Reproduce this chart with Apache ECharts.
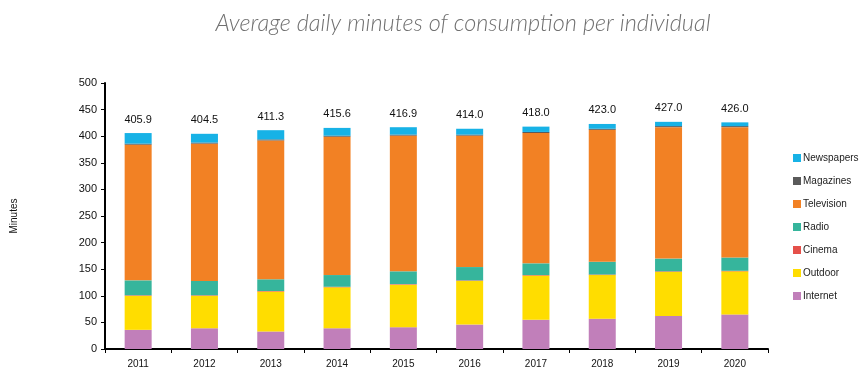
<!DOCTYPE html>
<html>
<head>
<meta charset="utf-8">
<script src="https://cdn.jsdelivr.net/npm/echarts@6/dist/echarts.min.js"></script>
<style>
  html, body { margin: 0; padding: 0; background: #fff; }
  #chart { width: 867px; height: 390px; }
</style>
</head>
<body>
<div id="chart"></div>
<script>
const years = ['2011', '2012', '2013', '2014', '2015', '2016', '2017', '2018', '2019', '2020'];
const totals = [405.9, 404.5, 411.3, 415.6, 416.9, 414.0, 418.0, 423.0, 427.0, 426.0];

// stacked segments, bottom to top
const internet   = [36, 39, 33, 39, 41, 46, 55, 57, 62, 65];
const outdoor    = [64, 61, 75, 77, 80, 82, 83, 82, 83, 81];
const cinema     = [1, 1, 1, 1, 1, 1, 1, 1, 1, 1];
const radio      = [28, 27, 22, 22, 24, 25, 22, 24, 24, 25];
const television = [255, 258, 261, 260, 255, 247, 245, 248, 247, 245];
const magazines  = [2, 2, 2, 2, 2, 2, 2, 2, 2, 2];
const newspapers = [19.9, 16.5, 17.3, 14.6, 13.9, 11.0, 10.0, 9.0, 8.0, 7.0];

const yTicks = [0, 50, 100, 150, 200, 250, 300, 350, 400, 450, 500];

const chart = echarts.init(document.getElementById('chart'));

const bar = (name, data, color, extra) => Object.assign({
  name: name,
  type: 'bar',
  stack: 'total',
  barWidth: 27,
  data: data,
  itemStyle: { color: color },
  emphasis: { disabled: true }
}, extra || {});

chart.setOption({
  animation: false,
  title: {
    text: 'Average daily minutes of consumption per individual',
    left: 458,
    textAlign: 'center',
    top: 7,
    textStyle: {
      fontFamily: 'Lato',
      fontStyle: 'italic',
      fontWeight: 300,
      fontSize: 23.5,
      color: '#707070'
    }
  },
  legend: {
    orient: 'vertical',
    left: 788,
    top: 148,
    itemWidth: 8,
    itemHeight: 8,
    itemGap: 13,
    icon: 'rect',
    textStyle: { fontSize: 10, color: '#222', padding: [0, 0, 0, -3] },
    data: ['Newspapers', 'Magazines', 'Television', 'Radio', 'Cinema', 'Outdoor', 'Internet']
  },
  grid: { left: 105, right: 99, top: 83, bottom: 41 },
  xAxis: {
    type: 'category',
    data: years,
    axisLine: { lineStyle: { color: '#000', width: 2 } },
    axisTick: { show: true, length: 4, lineStyle: { color: '#000' } },
    axisLabel: { color: '#111', fontSize: 10, margin: 10 }
  },
  yAxis: {
    type: 'value',
    min: yTicks[0],
    max: yTicks[yTicks.length - 1],
    interval: 50,
    name: 'Minutes',
    nameLocation: 'middle',
    nameGap: 86,
    nameTextStyle: { fontSize: 10, color: '#111' },
    splitLine: { show: false },
    axisLine: { show: true, lineStyle: { color: '#000', width: 2 } },
    axisTick: { show: true, length: 4, lineStyle: { color: '#000' } },
    axisLabel: { color: '#111', fontSize: 11, margin: 8 }
  },
  series: [
    bar('Internet', internet, '#c17fba'),
    bar('Outdoor', outdoor, '#ffdd00'),
    bar('Cinema', cinema, '#e5504a'),
    bar('Radio', radio, '#36b59c'),
    bar('Television', television, '#f28124'),
    bar('Magazines', magazines, '#5a5a5a'),
    bar('Newspapers', newspapers, '#17b2e6', {
      label: {
        show: true,
        position: 'top',
        distance: 8,
        fontSize: 11,
        color: '#111',
        formatter: p => totals[p.dataIndex].toFixed(1)
      }
    })
  ]
});
</script>
</body>
</html>
